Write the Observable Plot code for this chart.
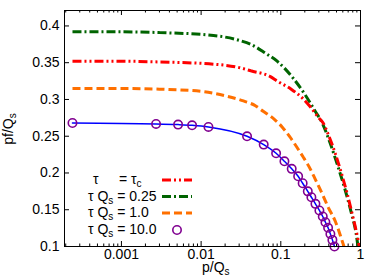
<!DOCTYPE html>
<html><head><meta charset="utf-8">
<script src="https://cdn.jsdelivr.net/npm/d3@7"></script>
<script src="https://cdn.jsdelivr.net/npm/@observablehq/plot@0.6"></script>
<style>body{margin:0;background:#fff} svg{font-family:"Liberation Sans",Arial,sans-serif}</style>
</head><body><div id="chart"></div>
<script>
// tau = tau_c (red)
const tauC_p = [0.000243, 0.001, 0.003, 0.0143, 0.031, 0.042, 0.074, 0.09, 0.135, 0.19, 0.23, 0.3, 0.34, 0.385, 0.484, 0.56, 0.68, 0.8, 0.92, 0.965];
const tauC_f = [0.352, 0.352, 0.351, 0.348, 0.343, 0.339, 0.331, 0.325, 0.314, 0.301, 0.291, 0.275, 0.268, 0.255, 0.226, 0.204, 0.172, 0.141, 0.112, 0.1];
// tau Qs = 0.25 (green)
const tau025_p = [0.000243, 0.001, 0.003, 0.0143, 0.031, 0.042, 0.064, 0.09, 0.145, 0.2, 0.27, 0.334, 0.384, 0.418, 0.51, 0.63, 0.77, 0.88, 0.93];
const tau025_f = [0.392, 0.392, 0.391, 0.387, 0.380, 0.375, 0.363, 0.352, 0.328, 0.307, 0.284, 0.267, 0.251, 0.240, 0.212, 0.180, 0.145, 0.118, 0.1];
// tau Qs = 1.0 (orange)
const tau1_p = [0.000243, 0.001, 0.003, 0.01, 0.02, 0.034, 0.048, 0.06, 0.083, 0.105, 0.128, 0.157, 0.19, 0.225, 0.272, 0.333, 0.395, 0.484, 0.559, 0.62];
const tau1_f = [0.315, 0.315, 0.314, 0.311, 0.305, 0.298, 0.2915, 0.284, 0.273, 0.262, 0.250, 0.236, 0.222, 0.209, 0.191, 0.171, 0.153, 0.134, 0.115, 0.1];
// tau Qs = 10.0 (blue line + purple circles)
const tau10_p = [0.000243, 0.00272, 0.00514, 0.0077, 0.01236, 0.0377, 0.061, 0.0873, 0.111, 0.137, 0.165, 0.188, 0.218, 0.242, 0.272, 0.305, 0.336, 0.363, 0.392, 0.419, 0.444, 0.471];
const tau10_f = [0.268, 0.2667, 0.2658, 0.2648, 0.2626, 0.2499, 0.2386, 0.2268, 0.2159, 0.2056, 0.1955, 0.186, 0.175, 0.167, 0.158, 0.149, 0.1408, 0.133, 0.1254, 0.117, 0.109, 0.1];

const xTicks = [0.001, 0.01, 0.1, 1];
const xTickLabels = ["0.001", "0.01", "0.1", "1"];
const yTicks = [0.1, 0.15, 0.2, 0.25, 0.3, 0.35, 0.4];
const yTickLabels = ["0.1", "0.15", "0.2", "0.25", "0.3", "0.35", "0.4"];
const legendValues = ["0.25", "1.0", "10.0"];

const rows = (ps, fs) => ps.map((p, i) => ({p, f: fs[i]}));
const W = 374, H = 280, mL = 64, mR = 14, mT = 10, mB = 34;
const innerH = H - mT - mB, innerW = W - mL - mR;
const xMin = 0.000193;
const xMinor = [];
for (const dec of [0.0001, 0.001, 0.01, 0.1]) for (let k = 2; k <= 9; k++) { const v = k * dec; if (v >= xMin && v < 1) xMinor.push(v); }

const cRed = "#ff0000", cGreen = "#006400", cOrange = "#ff7000", cBlue = "#0000ff", cPurple = "#800090";
const dRed = "9,3,2,3,2,3", dGreen = "9,3,2,3", dOrange = "8,4";
const lineStyle = {strokeWidth: 3, strokeLinecap: "butt", strokeLinejoin: "miter", curve: "monotone-x"};

const plot = Plot.plot({
  width: W, height: H, marginLeft: mL, marginRight: mR, marginTop: mT, marginBottom: mB,
  style: {fontFamily: "Liberation Sans, Arial, sans-serif", fontSize: "14px", background: "#fff", overflow: "visible"},
  x: {type: "log", domain: [xMin, 1]},
  y: {domain: [0.1, 0.421]},
  marks: [
    Plot.axisX(xTicks, {tickSize: 0, tickPadding: 3, tickFormat: d => xTickLabels[xTicks.indexOf(d)], label: null, fontSize: 14}),
    Plot.axisY(yTicks, {tickSize: 0, tickPadding: 5, tickFormat: d => yTickLabels[yTicks.indexOf(d)], label: null, fontSize: 14}),
    Plot.tickX(xTicks, {x: d => d, insetTop: innerH - 5, stroke: "black"}),
    Plot.tickX(xTicks, {x: d => d, insetBottom: innerH - 5, stroke: "black"}),
    Plot.tickX(xMinor, {x: d => d, insetTop: innerH - 2.5, stroke: "black"}),
    Plot.tickX(xMinor, {x: d => d, insetBottom: innerH - 2.5, stroke: "black"}),
    Plot.tickY(yTicks, {y: d => d, insetRight: innerW - 5, stroke: "black"}),
    Plot.tickY(yTicks, {y: d => d, insetLeft: innerW - 5, stroke: "black"}),
    Plot.line(rows(tau1_p, tau1_f), {x: "p", y: "f", stroke: cOrange, strokeDasharray: dOrange, ...lineStyle}),
    Plot.line(rows(tau025_p, tau025_f), {x: "p", y: "f", stroke: cGreen, strokeDasharray: dGreen, ...lineStyle}),
    Plot.line(rows(tauC_p, tauC_f), {x: "p", y: "f", stroke: cRed, strokeDasharray: dRed, ...lineStyle}),
    Plot.line(rows(tau10_p, tau10_f), {x: "p", y: "f", stroke: cBlue, strokeWidth: 1.5, curve: "monotone-x"}),
    Plot.dot(rows(tau10_p, tau10_f), {x: "p", y: "f", r: 4.2, stroke: cPurple, strokeWidth: 1.6, fill: "none"}),
    Plot.frame({stroke: "black", strokeWidth: 1})
  ]
});
document.getElementById("chart").appendChild(plot);

const svg = d3.select(plot);
const g = svg.append("g").attr("font-family", "Liberation Sans, Arial, sans-serif").attr("font-size", 14)
  .attr("fill", "black").attr("text-anchor", "start");
// axis labels
const xl = g.append("text").attr("x", 202).attr("y", 272);
xl.append("tspan").text("p/Q");
xl.append("tspan").attr("dy", 3).attr("font-size", 10).text("s");
const yl = g.append("text").attr("transform", "translate(13,129) rotate(-90)").attr("text-anchor", "middle");
yl.append("tspan").text("pf/Q");
yl.append("tspan").attr("dy", 3).attr("font-size", 10).text("s");

// legend
const rowY = [180, 196.5, 213, 230];
g.append("text").attr("x", 93).attr("y", rowY[0] + 4).text("τ");
const t0b = g.append("text").attr("x", 119).attr("y", rowY[0] + 4);
t0b.append("tspan").text("= τ");
t0b.append("tspan").attr("dy", 3).attr("font-size", 10).text("c");
legendValues.forEach((v, i) => {
  const t = g.append("text").attr("x", 88).attr("y", rowY[i + 1] + 4);
  t.append("tspan").text("τ Q");
  t.append("tspan").attr("dy", 3).attr("font-size", 10).text("s");
  t.append("tspan").attr("dy", -3).text(" = " + v);
});
const samples = [[cRed, dRed], [cGreen, dGreen], [cOrange, dOrange]];
samples.forEach(([c, d], i) => {
  g.append("line").attr("x1", 162).attr("x2", 192).attr("y1", rowY[i]).attr("y2", rowY[i])
    .attr("stroke", c).attr("stroke-width", 3).attr("stroke-dasharray", d);
});
g.append("circle").attr("cx", 177).attr("cy", rowY[3]).attr("r", 4.2).attr("fill", "none").attr("stroke", cPurple).attr("stroke-width", 1.6);
</script>
</body></html>
